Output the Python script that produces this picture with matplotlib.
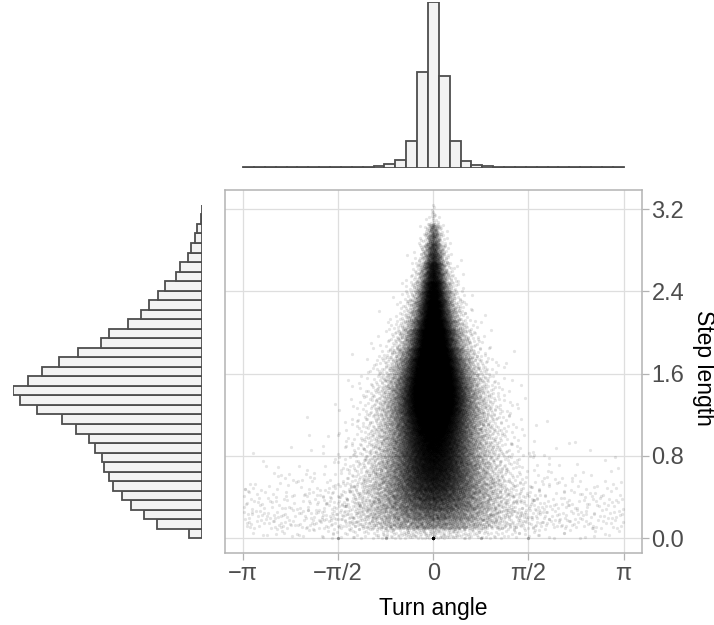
import numpy as np
import matplotlib
matplotlib.use("Agg")
import matplotlib.pyplot as plt

plt.rcParams['font.family'] = ['Liberation Sans', 'DejaVu Sans']

# ---- data ----
# turn-angle histogram: 35 bins over [-pi, pi], centre bin on 0
angle_counts = [45, 45, 45, 45, 45, 45, 45, 45, 45, 45, 50, 115, 200, 370, 840, 3060, 11000,
                19000, 10570, 3060, 800, 340, 170, 90, 50, 45, 45, 45, 45, 45, 45, 45, 45, 45, 45]

# step-length histogram: 35 bins over [0, 3.24], bottom to top
step_max = 3.24
step_counts = [234, 804, 1050, 1272, 1440, 1602, 1686, 1776, 1812, 1932, 2034, 2274, 2532,
               2970, 3282, 3414, 3144, 2880, 2574, 2232, 1824, 1680, 1332, 1092, 954, 792,
               660, 474, 402, 252, 192, 120, 84, 12, 6]

# spread of turn angle (logistic scale, rad) in each step-length bin
angle_spread = [0.45, 0.40, 0.36, 0.33, 0.30, 0.28, 0.26, 0.245, 0.23, 0.22, 0.21, 0.20,
                0.19, 0.18, 0.17, 0.16, 0.155, 0.145, 0.14, 0.13, 0.12, 0.115, 0.105, 0.095,
                0.088, 0.08, 0.072, 0.066, 0.06, 0.055, 0.05, 0.044, 0.038, 0.028, 0.014]
# share of points scattered over the whole angle range in each step-length bin
uniform_share = [0.24, 0.2, 0.15, 0.1, 0.07, 0.045, 0.02, 0.012, 0.008, 0.005, 0.003] + [0.0] * 24

# stationary fixes (step length 0) at fixed angles
zero_step_angles = [-np.pi / 2, -np.pi / 4, 0.0, np.pi / 4, np.pi / 2]
zero_step_counts = [4, 3, 40, 3, 3]

x_ticks = [-np.pi, -np.pi / 2, 0, np.pi / 2, np.pi]
x_tick_labels = ['\u2212\u03c0', '\u2212\u03c0/2', '0', '\u03c0/2', '\u03c0']
y_ticks = [0.0, 0.8, 1.6, 2.4, 3.2]


def halton(idx, base):
    i = np.asarray(idx, dtype=np.int64) + 1
    f, r = 1.0, np.zeros(len(i))
    while np.any(i > 0):
        f /= base
        r += f * (i % base)
        i //= base
    return r


# ---- point cloud, placed deterministically (Halton sequence) ----
step_edges = np.linspace(0, step_max, len(step_counts) + 1)
xs, ys = [], []
start = 0
for i, n in enumerate(step_counts):
    k = np.arange(start, start + n)
    start += n
    ys.append(step_edges[i] + (step_edges[i + 1] - step_edges[i]) * halton(k, 2))
    u = np.clip(halton(k, 3), 1e-6, 1 - 1e-6)
    ang = angle_spread[i] * np.log(u / (1 - u))
    wide = halton(k, 5) < uniform_share[i]
    ang[wide] = -np.pi + 2 * np.pi * halton(k[wide], 7)
    xs.append(np.clip(ang, -np.pi, np.pi))
for a, c in zip(zero_step_angles, zero_step_counts):
    xs.append(np.full(c, a))
    ys.append(np.zeros(c))
turn = np.concatenate(xs)
step = np.concatenate(ys)

# ---- figure ----
W, H = 714, 625
fig = plt.figure(figsize=(W / 100, H / 100), dpi=100)

xlim = (-3.44, 3.44)
ylim = (-0.143, 3.385)
frame_col = '#b3b3b3'
grid_col = '#dedede'
txt_col = '#4d4d4d'
bar_fill = '#f2f2f2'
bar_edge = '#4d4d4d'

main_l, main_r, main_t, main_b = 225, 641.7, 190, 553
ax = fig.add_axes([main_l / W, 1 - main_b / H, (main_r - main_l) / W, (main_b - main_t) / H])
ax.scatter(turn, step, s=5.5, c='black', alpha=0.1, linewidths=0, rasterized=True)
ax.set_xlim(*xlim)
ax.set_ylim(*ylim)
ax.set_xticks(x_ticks)
ax.set_xticklabels(x_tick_labels)
ax.set_yticks(y_ticks)
ax.set_yticklabels([f'{v:.1f}' for v in y_ticks])
ax.yaxis.tick_right()
ax.grid(True, color=grid_col, linewidth=0.9)
ax.set_axisbelow(True)
for sp in ax.spines.values():
    sp.set_color(frame_col)
    sp.set_linewidth(1.1)
ax.tick_params(axis='both', colors=frame_col, labelcolor=txt_col, labelsize=17,
               length=5, width=0.9, pad=2)
ax.set_xlabel('Turn angle', fontsize=16.5, color='black')
ax.set_ylabel('Step length', fontsize=16.5, color='black', rotation=-90)
ax.yaxis.set_label_position('right')
ax.xaxis.set_label_coords(0.5, (main_b - 608) / (main_b - main_t))
ax.yaxis.set_label_coords((703.5 - main_l) / (main_r - main_l), 0.51)
ax.xaxis.label.set_va('center')
ax.yaxis.label.set_va('center')
ax.yaxis.label.set_ha('center')

# top marginal: turn angle
angle_edges = np.linspace(-np.pi, np.pi, len(angle_counts) + 1)
axt = fig.add_axes([main_l / W, 1 - 167.7 / H, (main_r - main_l) / W, 165.7 / H])
axt.bar(angle_edges[:-1], angle_counts, width=np.diff(angle_edges), align='edge',
        color=bar_fill, edgecolor=bar_edge, linewidth=1.3)
axt.set_xlim(*xlim)
axt.set_ylim(0, max(angle_counts))
axt.axis('off')

# left marginal: step length
axl = fig.add_axes([12.7 / W, 1 - main_b / H, (202 - 12.7) / W, (main_b - main_t) / H])
axl.barh(step_edges[:-1], step_counts, height=np.diff(step_edges), align='edge',
         color=bar_fill, edgecolor=bar_edge, linewidth=1.3)
axl.set_xlim(max(step_counts), 0)
axl.set_ylim(*ylim)
axl.axis('off')

fig.savefig('out.png', dpi=100)
